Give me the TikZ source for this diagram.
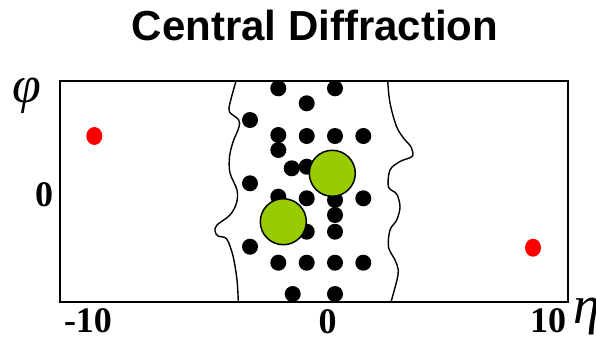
\documentclass[tikz,border=0pt]{standalone}
\usepackage{fontspec}
\usetikzlibrary{shapes.geometric}
\setmainfont{Liberation Serif}
\newfontfamily\titlefont{Liberation Sans}
\definecolor{limeg}{HTML}{99CC00}
\definecolor{reddot}{HTML}{FF0000}
\begin{document}
\begin{tikzpicture}[x=1pt,y=-1pt,
  bdot/.style={circle,fill=black,inner sep=0pt,minimum size=16pt},
  gball/.style={circle,fill=limeg,draw=black,line width=1.5pt,inner sep=0pt,minimum size=46pt},
  rdot/.style={ellipse,fill=reddot,inner sep=0pt,minimum width=16pt,minimum height=18pt},
  tick/.style={font=\fontsize{36}{36}\selectfont\bfseries,inner sep=0pt},
  wave/.style={line width=1.4pt,smooth,tension=0.55}]
\useasboundingbox (0,0) rectangle (596,346);
\fill[white] (0,0) rectangle (596,346);
\node[font=\titlefont\fontsize{42}{42}\selectfont\bfseries,inner sep=0pt] (title) at (315,25) {Central Diffraction};
% wavy boundaries
\draw[wave] plot coordinates {(236,81) (230,103) (229.5,112) (238.5,119.5) (239,127) (233,142) (229.5,157) (230,173) (237,190) (236.5,203) (230,215) (217,225) (215,231) (218,236) (226.7,239) (233,256) (237,280) (238.3,302)};
\draw[wave] plot coordinates {(387.7,81) (390,103) (396.7,127) (405,140) (410.5,146) (412.5,156) (400,161.5) (390,170) (388.5,187) (396.7,194) (400,207) (396.7,220) (390,230) (388.5,247) (395,260) (398.3,270) (396.7,281) (391,302)};
% frame
\draw[line width=2pt] (59.5,81) rectangle (568,302);
% black dots
\foreach \n/\x/\y in {a/278.3/88.3, b/335/88.3, c/306.7/103.3, d/250/120,
  e/278.3/135, f/306.7/136, g/335/136, h/363.3/136, i/278.3/150,
  j/291.7/168.3, k/306.7/166.7, l/250/183.3, m/278.3/196.7, n/306.7/198.3,
  o/335/200, p/363.3/198.3, q/335/215, r/335/231.7, s/306.7/231.7,
  t/250/246.7, u/278.3/262.7, v/306.7/262.7, w/335/262.7, x/363.3/262.7,
  y/292.7/294, z/335/294}
  \node[bdot] (d\n) at (\x,\y) {};
% green balls
\node[gball] (g1) at (332.3,173.3) {};
\node[gball] (g2) at (283.3,221.7) {};
% red dots
\node[rdot] (r1) at (94.3,136) {};
\node[rdot] (r2) at (533,247.7) {};
% labels
\node[font=\fontsize{52}{52}\selectfont\itshape,inner sep=0pt] (phi) at (27,96) {φ};
\node[tick] (zy) at (44,194.5) {0};
\node[tick] (m10) at (88,320.5) {-10};
\node[tick] (z0) at (327.5,321.5) {0};
\node[tick] (p10) at (548,320.5) {10};
\node[font=\fontsize{54}{54}\selectfont\itshape,inner sep=0pt,anchor=north west] (eta) at (573,298) {η};
\end{tikzpicture}
\end{document}
